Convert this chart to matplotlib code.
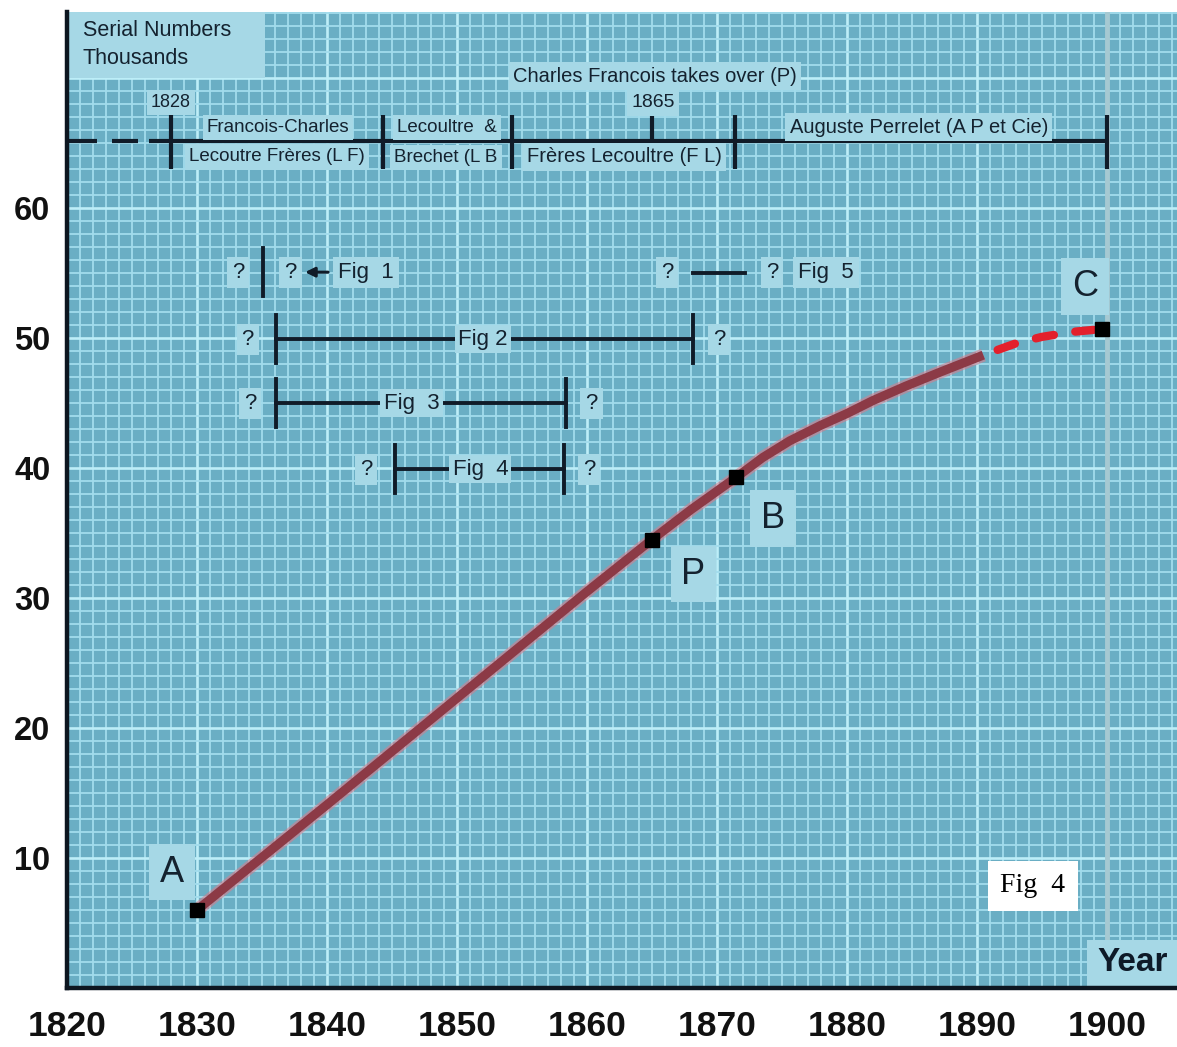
import matplotlib
matplotlib.use("Agg")
import matplotlib.pyplot as plt
from matplotlib.patches import Rectangle
from matplotlib.ticker import MultipleLocator

# ---------------- data ----------------
years_solid = [1830, 1840, 1850, 1860, 1865, 1868, 1871.5, 1873.5, 1875.6, 1878, 1880,
               1882, 1884.5, 1887.2, 1890.5]
serial_solid = [6.0, 14.1, 22.3, 30.5, 34.5, 36.8, 39.3, 40.8, 42.1, 43.3, 44.2,
                45.2, 46.3, 47.4, 48.7]
years_dashed = [1891.6, 1893, 1895, 1897.5, 1899.6]
serial_dashed = [49.1, 49.6, 50.1, 50.5, 50.7]

point_names = ["A", "P", "B", "C"]
point_years = [1830, 1865, 1871.5, 1899.6]
point_serials = [6.0, 34.5, 39.3, 50.7]

x_ticks = [1820, 1830, 1840, 1850, 1860, 1870, 1880, 1890, 1900]
y_ticks = [10, 20, 30, 40, 50, 60]

era_bounds = [1828, 1844.3, 1854.2, 1871.4, 1900]
era_top = ["Francois-Charles", "Lecoultre  &", "", "Auguste Perrelet (A P et Cie)"]
era_bottom = ["Lecoutre Frères (L F)", "Brechet (L B", "Frères Lecoultre (F L)", ""]
takeover_year = 1865

fig_ranges = {"Fig 2": (1836.1, 1868.2), "Fig 3": (1836.1, 1858.4), "Fig 4": (1845.2, 1858.2)}
fig1_year = 1835.1
fig5_range = (1868.2, 1872.2)

# ---------------- style ----------------
cell_c = "#6aaec4"
minor_c = "#a2dcec"
major_c = "#bdeef8"
box_c = "#a6d8e6"
ink = "#14222f"
bar_c = "#101b28"

NARROW = ["Liberation Sans Narrow", "Liberation Sans", "DejaVu Sans"]
REG = ["Liberation Sans", "DejaVu Sans"]

fig = plt.figure(figsize=(11.77, 10.47), dpi=100)
ax = fig.add_axes([67 / 1177, 59 / 1047, 1 - 67 / 1177, (988 - 12) / 1047])
ax.set_facecolor(cell_c)
ax.set_xlim(1820, 1905.4)
ax.set_ylim(0, 75.1)

# grid
ax.xaxis.set_minor_locator(MultipleLocator(1))
ax.yaxis.set_minor_locator(MultipleLocator(1))
ax.set_xticks(x_ticks)
ax.set_xticklabels([str(v) for v in x_ticks])
ax.set_yticks([0] + y_ticks + [70])
ax.set_yticklabels([""] + [str(v) for v in y_ticks] + [""])
ax.grid(which="minor", color=minor_c, lw=1.3, zorder=0)
ax.grid(which="major", color=major_c, lw=1.9, zorder=0)
ax.set_axisbelow(True)
ax.tick_params(which="both", length=0)
ax.tick_params(axis="x", pad=16)
ax.tick_params(axis="y", pad=12)
for lab in ax.get_xticklabels():
    lab.set_fontfamily(NARROW)
    lab.set_fontweight("bold")
    lab.set_fontsize(25.5)
    lab.set_color("#111111")
for lab in ax.get_yticklabels():
    lab.set_fontfamily(REG)
    lab.set_fontweight("bold")
    lab.set_fontsize(23.5)
    lab.set_color("#111111")

for s in ["top", "right"]:
    ax.spines[s].set_visible(False)
for s in ["left", "bottom"]:
    ax.spines[s].set_linewidth(3.2)
    ax.spines[s].set_color("#0d1620")
    ax.spines[s].set_zorder(6)

# 1900 vertical guide line
ax.axvline(1900, color="#a6c9d2", lw=3.5, zorder=1)

# light boxes
ax.add_patch(Rectangle((1820.1, 70.0), 15.1, 5.1, fc=box_c, ec="none", zorder=2))
ax.text(1821.2, 73.7, "Serial Numbers", fontsize=15.5, family=REG, color=ink,
        va="center", ha="left", zorder=3)
ax.text(1821.2, 71.55, "Thousands", fontsize=15.5, family=REG, color=ink,
        va="center", ha="left", zorder=3)
ax.add_patch(Rectangle((1898.5, 0), 7, 3.7, fc=box_c, ec="none", zorder=2))
ax.text(1902.0, 1.95, "Year", fontsize=24, family=REG, fontweight="bold",
        color="#0e1a28", ha="center", va="center", zorder=3)


def boxed(x, y, s, size=13, family=REG, **kw):
    ax.text(x, y, s, fontsize=size, family=family, color=ink, ha="center", va="center",
            zorder=4, bbox=dict(boxstyle="square,pad=0.22", fc=box_c, ec="none"), **kw)


# ---------------- timeline ----------------
tl_y = 65.15
ax.plot([1820, 1822.3], [tl_y, tl_y], color=bar_c, lw=3, zorder=3, solid_capstyle="butt")
ax.plot([1823.5, 1825.5], [tl_y, tl_y], color=bar_c, lw=3, zorder=3, solid_capstyle="butt")
ax.plot([1826.3, era_bounds[-1]], [tl_y, tl_y], color=bar_c, lw=3, zorder=3,
        solid_capstyle="butt")
for b in era_bounds:
    ax.plot([b, b], [63.05, 67.15], color=bar_c, lw=3, zorder=3, solid_capstyle="butt")
ax.plot([takeover_year, takeover_year], [tl_y, 67.0], color=bar_c, lw=3, zorder=3)

boxed(1828.0, 68.15, "1828", size=13, family=NARROW)
boxed(1836.23, 66.2, era_top[0], size=13.5)
boxed(1836.15, 63.95, era_bottom[0], size=13.5)
boxed(1849.23, 66.2, era_top[1], size=13.5)
boxed(1849.15, 63.9, era_bottom[1], size=13.5)
boxed(1862.85, 63.95, era_bottom[2], size=14.5, family=NARROW)
boxed(1885.54, 66.25, era_top[3], size=14.5, family=NARROW)
boxed(1865.23, 70.15, "Charles Francois takes over (P)", size=14.5, family=NARROW)
boxed(takeover_year + 0.1, 68.1, str(takeover_year), size=14, family=NARROW)

# ---------------- fig ranges ----------------
fs_fig = 16
hb = 1.85
# Fig 1
y1 = 55.08
boxed(1833.15, y1, "?", size=fs_fig)
ax.plot([fig1_year, fig1_year], [y1 - hb, y1 + hb], color=bar_c, lw=2.8, zorder=3)
boxed(1837.2, y1, "?", size=fs_fig)
ax.annotate("", xy=(1838.1, y1), xytext=(1840.3, y1), zorder=5,
            arrowprops=dict(arrowstyle="-|>", color=bar_c, lw=2.2, mutation_scale=14))
boxed(1843.0, y1, "Fig  1", size=fs_fig)

rows = {"Fig 2": 49.92, "Fig 3": 45.0, "Fig 4": 39.92}
text_x = {"Fig 2": 1852.0, "Fig 3": 1846.5, "Fig 4": 1851.8}
qleft = {"Fig 2": 1833.9, "Fig 3": 1834.1, "Fig 4": 1843.0}
for name, (x0, x1) in fig_ranges.items():
    yy = rows[name]
    ax.plot([x0, x1], [yy, yy], color=bar_c, lw=2.8, zorder=3)
    for xb in (x0, x1):
        ax.plot([xb, xb], [yy - hb, yy + hb], color=bar_c, lw=2.8, zorder=3)
    label = name if name == "Fig 2" else name.replace(" ", "  ")
    ax.text(text_x[name], yy, label, fontsize=fs_fig, family=REG, color=ink,
            ha="center", va="center", zorder=4,
            bbox=dict(boxstyle="square,pad=0.15", fc=box_c, ec="none"))
    boxed(qleft[name], yy, "?", size=fs_fig)
    boxed(x1 + 1.95, yy, "?", size=fs_fig)

# Fig 5
ax.plot(list(fig5_range), [55.0, 55.0], color=bar_c, lw=2.8, zorder=3)
boxed(fig5_range[0] - 2.05, y1, "?", size=fs_fig)
boxed(1874.25, y1, "?", size=fs_fig)
boxed(1878.4, y1, "Fig  5", size=fs_fig)

# ---------------- curve ----------------
ax.plot(years_solid, serial_solid, color="#e07886", lw=9.5, alpha=0.55, zorder=5,
        solid_capstyle="butt", solid_joinstyle="round")
ax.plot(years_solid, serial_solid, color="#8c3a46", lw=6.5, zorder=6, solid_capstyle="butt",
        solid_joinstyle="round")
ax.plot(years_dashed, serial_dashed, color="#e3202c", lw=6.0, zorder=6,
        dashes=(2.2, 2.6), dash_capstyle="round")
ax.plot(point_years, point_serials, ls="none", marker="s", ms=9.5, color="black", zorder=7)

label_pos = {"A": (1828.1, 8.92), "P": (1868.2, 31.85), "B": (1874.3, 36.15), "C": (1898.3, 54.0)}
for n in point_names:
    lx, ly = label_pos[n]
    ax.text(lx, ly, n, fontsize=26, family=REG, color=ink, ha="center", va="center", zorder=4,
            bbox=dict(boxstyle="square,pad=0.3", fc=box_c, ec="none"))

# Fig 4 caption
ax.text(1894.3, 7.85, "Fig  4", fontsize=20, family=["Liberation Serif", "DejaVu Serif"],
        color="black", ha="center", va="center", zorder=8,
        bbox=dict(boxstyle="square,pad=0.45", fc="white", ec="none"))

fig.savefig("out.png", dpi=100, facecolor="white")
